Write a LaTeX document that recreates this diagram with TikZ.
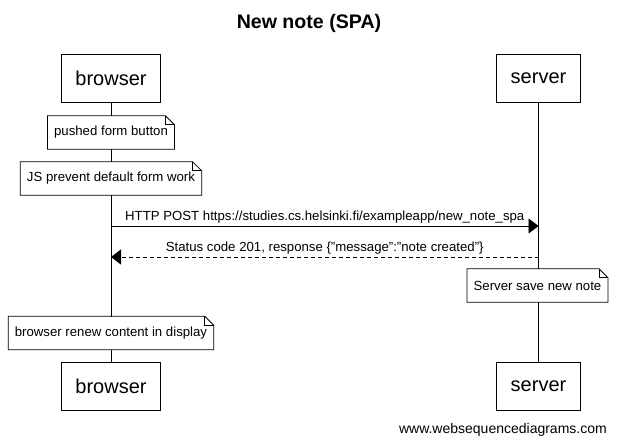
\documentclass[tikz,border=0pt]{standalone}
\usepackage{fontspec}
\setmainfont{Liberation Sans}
\usetikzlibrary{arrows.meta}
\tikzset{
  actorbox/.style={draw, line width=0.9pt, fill=white, minimum height=48pt, inner xsep=14pt, font=\fontsize{20}{24}\selectfont},
  notebox/.style={fill=white, minimum height=33pt, inner xsep=6.5pt, font=\fontsize{13.2}{16}\selectfont},
  noteline/.style={line width=0.8pt},
  lifeline/.style={line width=0.9pt},
  msg/.style={line width=0.9pt, -{Triangle[length=10pt, width=15pt]}},
  reply/.style={msg, dash pattern=on 4pt off 3pt},
  msglabel/.style={font=\fontsize{13.2}{16}\selectfont, inner sep=0pt},
}
\newcommand{\drawnote}[3]{%
  \node[notebox] (#1) at #2 {#3};
  \draw[noteline] (#1.south west) -- (#1.north west) -- ([xshift=-9pt]#1.north east)
    -- ([yshift=-9pt]#1.north east) -- (#1.south east) -- cycle;
  \draw[noteline] ([xshift=-9pt]#1.north east) -- ([xshift=-9pt,yshift=-9pt]#1.north east)
    -- ([yshift=-9pt]#1.north east);
}
\begin{document}
\begin{tikzpicture}[x=1pt, y=-1pt]
\useasboundingbox (0,0) rectangle (618,445);
\node[font=\fontsize{19.6}{23}\selectfont\bfseries] (title) at (309,23) {New note (SPA)};

\node[actorbox] (bt) at (111,78.5) {browser};
\node[actorbox] (st) at (538.5,78.5) {server};
\node[actorbox] (bb) at (111,386) {browser};
\node[actorbox] (sb) at (538.5,386) {server};

\draw[lifeline] (bt.south) -- (bb.north);
\draw[lifeline] (st.south) -- (sb.north);

\drawnote{n1}{(111,132.5)}{pushed form button}
\drawnote{n2}{(111,178.5)}{JS prevent default form work}

\coordinate (p1) at (111,226);
\coordinate (p2) at (538.5,226);
\draw[msg] (p1) -- node[msglabel, above=2.5pt] {HTTP POST https://studies.cs.helsinki.fi/exampleapp/new\_note\_spa} (p2);

\coordinate (r1) at (538.5,257);
\coordinate (r2) at (111,257);
\draw[reply] (r1) -- node[msglabel, above=2.5pt] {Status code 201, response \{"message":"note created"\}} (r2);

\drawnote{n3}{(537.5,285.5)}{Server save new note}
\drawnote{n4}{(111,333)}{browser renew content in display}

\node[anchor=east, inner sep=0pt, font=\fontsize{14}{17}\selectfont] (wm) at (607,430) {www.websequencediagrams.com};
\end{tikzpicture}
\end{document}
